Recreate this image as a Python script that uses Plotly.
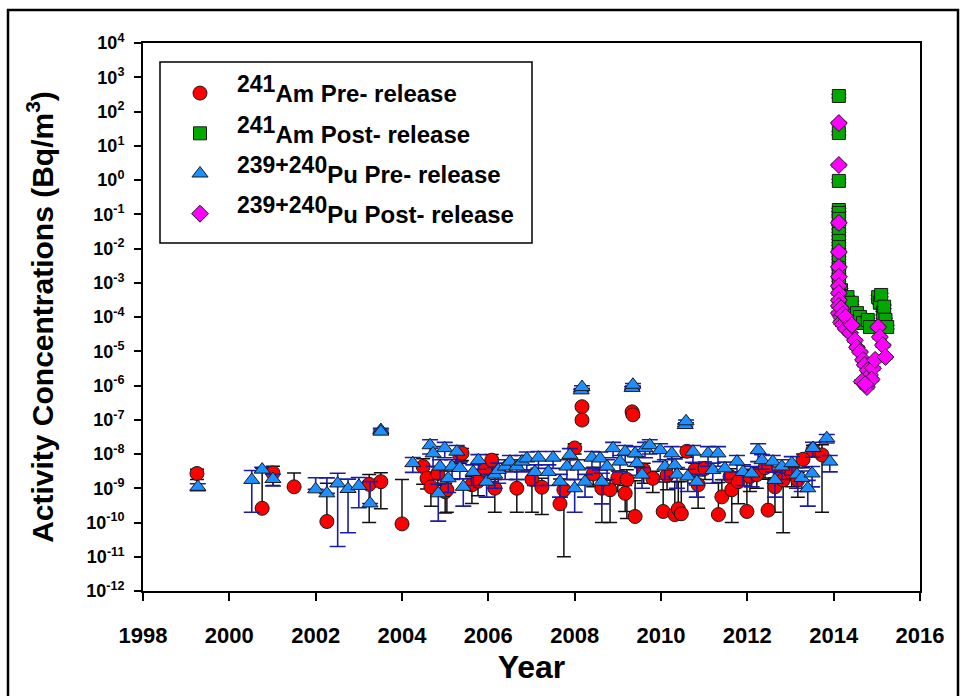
import numpy as np
import plotly.graph_objects as go

# ---------------- 241Am, pre-release (year, Bq/m3, 1-sigma) ----------------
am_pre_year = [1999.25, 2000.76, 2001.01, 2001.50, 2002.26, 2003.24, 2003.51, 2004.00,
               2004.49, 2004.58, 2004.67, 2004.83, 2005.00, 2005.04, 2005.34, 2005.39,
               2005.62, 2005.76, 2005.92, 2006.08, 2006.15, 2006.66, 2007.01, 2007.24,
               2007.66, 2007.75, 2008.00, 2008.17, 2008.17, 2008.43, 2008.63, 2008.82,
               2009.00, 2009.17, 2009.21, 2009.33, 2009.35, 2009.40, 2009.60, 2009.81,
               2010.05, 2010.14, 2010.32, 2010.40, 2010.47, 2010.60, 2010.79, 2010.86,
               2011.02, 2011.33, 2011.41, 2011.60, 2011.64, 2011.79, 2011.99, 2012.06,
               2012.22, 2012.41, 2012.48, 2012.64, 2012.76, 2012.83, 2013.03, 2013.17,
               2013.29, 2013.52, 2013.73]
am_pre_val = [2.7e-9, 2.6e-10, 2.8e-9, 1.1e-9, 1.07e-10, 1.3e-9, 1.55e-9, 9.1e-11,
              4.3e-9, 1.95e-9, 1.1e-9, 2.7e-9, 7.9e-10, 9.0e-10, 9.3e-9, 1.05e-8,
              1.26e-9, 1.6e-9, 3.4e-9, 6.6e-9, 1.0e-9, 1.0e-9, 1.8e-9, 1.07e-9,
              3.5e-10, 9.0e-10, 1.5e-8, 2.4e-7, 9.8e-8, 2.6e-9, 1.0e-9, 9.0e-10,
              2.0e-9, 7.1e-10, 1.8e-9, 1.7e-7, 1.4e-7, 1.5e-10, 3.4e-9, 1.95e-9,
              2.1e-10, 2.4e-9, 1.7e-10, 2.5e-10, 1.8e-10, 1.2e-8, 3.4e-9, 1.26e-9,
              3.8e-9, 1.7e-10, 5.6e-10, 2.2e-9, 9.0e-10, 1.55e-9, 2.1e-10, 2.2e-9,
              2.5e-9, 4.0e-9, 2.3e-10, 1.1e-9, 2.7e-9, 1.75e-9, 2.7e-9, 1.75e-9,
              7.0e-9, 1.3e-8, 9.4e-9]
am_pre_err = [0.9e-9, 3.6e-9, 1.6e-9, 1.7e-9, 1.3e-9, 1.2e-9, 1.3e-9, 1.7e-9,
              3.0e-9, 1.0e-9, 0.8e-9, 1.5e-9, 0.6e-9, 0.7e-9, 4.0e-9, 4.0e-9,
              0.9e-9, 1.0e-9, 2.0e-9, 3.0e-9, 0.8e-9, 0.8e-9, 1.6e-9, 0.9e-9,
              1.5e-9, 8.9e-10, 5.0e-9, 3.0e-8, 1.5e-8, 1.5e-9, 0.9e-9, 0.8e-9,
              1.2e-9, 0.5e-9, 1.67e-9, 2.0e-8, 2.0e-8, 1.5e-9, 2.0e-9, 1.2e-9,
              1.3e-9, 1.5e-9, 1.4e-9, 1.3e-9, 1.4e-9, 4.0e-9, 2.0e-9, 1.0e-9,
              2.0e-9, 1.3e-9, 1.2e-9, 1.5e-9, 0.8e-9, 1.2e-9, 1.5e-9, 1.4e-9,
              1.5e-9, 2.0e-9, 1.6e-9, 0.9e-9, 1.5e-9, 1.7e-9, 1.6e-9, 1.2e-9,
              3.0e-9, 5.0e-9, 9.2e-9]

# ---------------- 241Am, post-release ----------------
am_post_year = [2014.12] * 15 + [2014.17, 2014.17, 2014.21, 2014.21, 2014.28, 2014.28,
                                 2014.32, 2014.42, 2014.54, 2014.61, 2014.68, 2014.79,
                                 2014.84, 2015.03, 2015.07, 2015.10, 2015.14, 2015.17,
                                 2015.20, 2015.24]
am_post_val = [284, 23.5, 0.94, 0.133, 0.109, 0.073, 0.042, 0.0265, 0.0166, 0.011,
               6.5e-3, 4.3e-3, 2.7e-3, 1.7e-3, 9.8e-4,
               6.1e-4, 4.1e-4, 3.1e-4, 2.1e-4, 2.6e-4, 1.6e-4,
               3.8e-4, 2.6e-4, 1.3e-4, 1.0e-4, 6.7e-5, 8.2e-5,
               5.1e-5, 3.8e-4, 2.6e-4, 4.4e-4, 1.3e-4, 2.0e-4,
               8.2e-5, 5.1e-5]

# ---------------- 239+240Pu, pre-release ----------------
pu_pre_year = [1999.27, 2000.52, 2000.76, 2001.01, 2002.00, 2002.26, 2002.51, 2002.75,
               2003.00, 2003.26, 2003.51, 2003.51, 2004.25, 2004.65, 2004.72, 2004.84,
               2004.88, 2004.99, 2005.07, 2005.16, 2005.27, 2005.34, 2005.42, 2005.65,
               2005.77, 2005.96, 2006.15, 2006.23, 2006.39, 2006.50, 2006.66, 2006.78,
               2006.89, 2007.08, 2007.16, 2007.39, 2007.50, 2007.66, 2007.82, 2007.89,
               2008.00, 2008.08, 2008.15, 2008.17, 2008.24, 2008.40, 2008.59, 2008.63,
               2008.75, 2008.89, 2009.05, 2009.17, 2009.33, 2009.35, 2009.40, 2009.44,
               2009.56, 2009.63, 2009.74, 2009.98, 2010.09, 2010.25, 2010.32, 2010.37,
               2010.56, 2010.58, 2010.62, 2010.74, 2010.83, 2011.09, 2011.20, 2011.32,
               2011.48, 2011.76, 2011.90, 2012.10, 2012.25, 2012.34, 2012.59, 2012.64,
               2012.80, 2013.03, 2013.15, 2013.26, 2013.40, 2013.50, 2013.52, 2013.84,
               2013.91]
pu_pre_val = [1.1e-9, 1.75e-9, 3.5e-9, 1.86e-9, 9.3e-10, 7.1e-10, 1.38e-9, 9.5e-10,
              1.17e-9, 3.6e-10, 5.0e-8, 4.5e-8, 5.4e-9, 1.8e-8, 1.04e-8, 7.1e-10,
              4.3e-9, 1.48e-8, 1.95e-9, 4.3e-9, 1.17e-8, 3.9e-9, 1.1e-9, 3.0e-9,
              6.6e-9, 1.55e-9, 2.5e-9, 3.4e-9, 4.3e-9, 6.0e-9, 4.3e-9, 6.0e-9,
              7.4e-9, 3.0e-9, 7.8e-9, 3.0e-9, 7.8e-9, 1.55e-9, 4.3e-9, 9.4e-9,
              1.0e-9, 4.3e-9, 7.2e-7, 9.0e-7, 1.55e-9, 7.8e-9, 7.4e-9, 1.55e-9,
              4.3e-9, 1.48e-8, 6.0e-9, 1.17e-8, 8.5e-7, 1.05e-6, 1.04e-8, 5.4e-9,
              2.5e-9, 1.48e-8, 1.8e-8, 1.3e-8, 4.3e-9, 1.04e-8, 4.7e-9, 2.5e-9,
              7.0e-8, 9.0e-8, 2.2e-9, 1.17e-8, 1.55e-9, 1.04e-8, 3.4e-9, 1.04e-8,
              3.8e-9, 6.0e-9, 3.0e-9, 2.7e-9, 1.3e-8, 6.6e-9, 6.0e-9, 1.75e-9,
              4.3e-9, 5.4e-9, 2.5e-9, 2.0e-9, 1.0e-9, 2.7e-9, 1.5e-8, 2.9e-8,
              6.0e-9]
pu_pre_err = [0.25e-9, 1.55e-9, 0.6e-9, 0.7e-9, 1.1e-9, 1.3e-9, 1.36e-9, 0.9e-9,
              0.9e-9, 1.2e-9, 0.6e-8, 0.5e-8, 2.5e-9, 0.8e-8, 0.6e-8, 0.6e-9,
              2.5e-9, 0.7e-8, 1.2e-9, 2.5e-9, 0.6e-8, 2.0e-9, 0.8e-9, 1.8e-9,
              3.0e-9, 1.0e-9, 1.5e-9, 2.0e-9, 2.5e-9, 3.0e-9, 2.5e-9, 3.0e-9,
              4.0e-9, 1.8e-9, 4.0e-9, 1.8e-9, 4.0e-9, 1.0e-9, 2.5e-9, 5.0e-9,
              0.8e-9, 2.5e-9, 0.6e-7, 0.8e-7, 1.0e-9, 4.0e-9, 4.0e-9, 1.2e-9,
              2.5e-9, 0.7e-8, 3.0e-9, 0.6e-8, 0.7e-7, 0.9e-7, 0.6e-8, 3.0e-9,
              1.5e-9, 0.7e-8, 0.8e-8, 0.7e-8, 2.5e-9, 0.6e-8, 2.5e-9, 1.5e-9,
              0.6e-8, 0.8e-8, 1.4e-9, 0.6e-8, 1.0e-9, 0.6e-8, 2.0e-9, 0.6e-8,
              2.0e-9, 3.0e-9, 1.8e-9, 1.6e-9, 0.7e-8, 3.0e-9, 3.0e-9, 1.2e-9,
              2.5e-9, 3.0e-9, 1.5e-9, 1.2e-9, 0.7e-9, 1.6e-9, 0.7e-8, 0.8e-8,
              3.0e-9]

# ---------------- 239+240Pu, post-release ----------------
pu_post_year = [2014.12] * 11 + [2014.17, 2014.17, 2014.17, 2014.21, 2014.21, 2014.28,
                                 2014.28, 2014.38, 2014.42, 2014.49, 2014.54, 2014.61,
                                 2014.68, 2014.72, 2014.79, 2014.84, 2014.65, 2014.77,
                                 2014.91, 2014.96, 2015.03, 2015.07, 2015.14, 2015.20,
                                 2014.88, 2014.73]
pu_post_val = [46, 2.74, 0.056, 7.9e-3, 2.9e-3, 1.5e-3, 8.0e-4, 5.0e-4, 3.1e-4, 2.1e-4, 1.3e-4,
               1.8e-4, 1.0e-4, 7.0e-5, 1.2e-4, 6.0e-5, 1.0e-4,
               4.5e-5, 3.4e-5, 5.8e-5, 2.1e-5, 1.3e-5, 9.5e-6,
               5.6e-6, 4.0e-6, 2.8e-6, 2.0e-6, 1.3e-6, 9.0e-7,
               3.2e-6, 5.6e-6, 5.1e-5, 2.6e-5, 1.5e-5, 6.8e-6,
               1.5e-6, 1.1e-6]

# relative counting uncertainty of the post-release samples
post_rel_err = 0.12

x_ticks = list(range(1998, 2017, 2))
y_exponents = list(range(-12, 5))
y_ticktext = [f"10<sup>{k}</sup>" for k in y_exponents]

FONT = "Liberation Sans, Arial, Helvetica, sans-serif"


def legend_label(mass, element, phase):
    # full-size, raised mass number in front of the element symbol
    return (f"<sup><span style='font-size:23px'>{mass}</span></sup>"
            f"{element} {phase}- release")


fig = go.Figure()


def add_series(name, years, vals, errs, symbol, size, fill, err_color, err_thick, err_half):
    v = np.asarray(vals, dtype=float)
    e = np.asarray(errs, dtype=float)
    # lower bar is dropped when it would run below zero (log axis)
    e_lo = np.where(v - e > 0, e, 0.0)
    fig.add_trace(go.Scatter(
        x=years, y=v, mode="markers", name=name, legendgroup=name,
        marker=dict(symbol=symbol, size=size, color=fill,
                    line=dict(color="#1a1a1a", width=1)),
        error_y=dict(type="data", symmetric=False, array=e, arrayminus=e_lo,
                     color=err_color, thickness=err_thick, width=err_half),
    ))


add_series(legend_label("241", "Am", "Pre"), am_pre_year, am_pre_val, am_pre_err,
           "circle", 14, "#ff0000", "#111111", 1.5, 7)
add_series(legend_label("241", "Am", "Post"), am_post_year, am_post_val,
           np.asarray(am_post_val) * post_rel_err,
           "square", 13, "#00a800", "#111111", 1, 7.5)
add_series(legend_label("239+240", "Pu", "Pre"), pu_pre_year, pu_pre_val, pu_pre_err,
           "triangle-up", 14, "#1e8fff", "#1c1caa", 1.6, 8)
add_series(legend_label("239+240", "Pu", "Post"), pu_post_year, pu_post_val,
           np.asarray(pu_post_val) * post_rel_err,
           "diamond", 13, "#ff00ff", "#111111", 1, 7.5)

# pixel -> paper helpers
L, R, T, B = 143, 46, 43, 105
W, H = 966, 696
pw, ph = W - L - R, H - T - B


def px(x):
    return (x - L) / pw


def py(y):
    return (H - B - y) / ph


fig.update_layout(
    width=W, height=H,
    margin=dict(l=L, r=R, t=T, b=B),
    paper_bgcolor="white", plot_bgcolor="white",
    font=dict(family=FONT, color="black", weight="bold"),
    showlegend=True,
    legend=dict(
        x=px(163), y=py(71), xanchor="left", yanchor="top",
        bgcolor="rgba(0,0,0,0)", borderwidth=0,
        font=dict(family=FONT, size=24, color="black", weight="bold"),
        itemwidth=64, traceorder="grouped", tracegroupgap=6,
    ),
    xaxis=dict(
        range=[1998, 2016], tickmode="array", tickvals=x_ticks,
        ticks="outside", ticklen=8, tickwidth=1.5, tickcolor="black",
        showline=True, linewidth=2, linecolor="black", mirror=True,
        showgrid=False, zeroline=False, ticklabelstandoff=16,
        tickfont=dict(family=FONT, size=22, color="black", weight="bold"),
        title=dict(text="Year", standoff=8,
                   font=dict(family=FONT, size=32, color="black", weight="bold")),
    ),
    yaxis=dict(
        type="log", range=[-12, 4], tickmode="array",
        tickvals=[10.0 ** k for k in y_exponents], ticktext=y_ticktext,
        ticks="outside", ticklen=7, tickwidth=1.5, tickcolor="black",
        showline=True, linewidth=2, linecolor="black", mirror=True,
        showgrid=False, zeroline=False, ticklabelstandoff=6,
        tickfont=dict(family=FONT, size=18, color="black", weight="bold"),
        title=dict(text="Activity Concentrations (Bq/m<sup>3</sup>)", standoff=24,
                   font=dict(family=FONT, size=30, color="black", weight="bold")),
    ),
    shapes=[
        # outer figure frame
        dict(type="rect", xref="paper", yref="paper",
             x0=px(8), x1=px(958), y0=py(702), y1=py(10),
             line=dict(color="black", width=2.5), fillcolor="rgba(0,0,0,0)",
             layer="below"),
        # legend box
        dict(type="rect", xref="paper", yref="paper",
             x0=px(160), x1=px(532), y0=py(243), y1=py(62),
             line=dict(color="black", width=1.5), fillcolor="white",
             layer="below"),
    ],
)

fig.write_html("out.html")
